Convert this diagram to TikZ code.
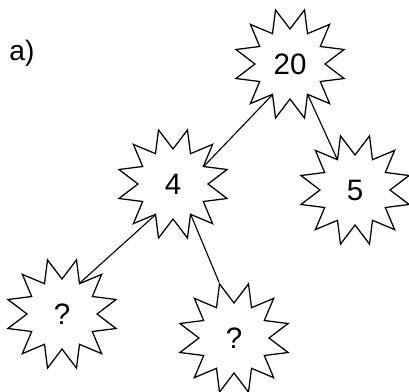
\documentclass[tikz,border=0pt]{standalone}
\usepackage{fontspec}
\setmainfont{Liberation Sans}
\usetikzlibrary{shapes.geometric}

\begin{document}
\begin{tikzpicture}[
        burst/.style={star, star points=12, star point ratio=1.6,
            shape border rotate=15, minimum size=2.8cm, inner sep=0pt,
            draw, line width=0.9pt, font=\fontsize{21}{25}\selectfont}
    ]
    \useasboundingbox (0, 0) rectangle (10.225, 9.775);

    \node (lbl) at (0.55, 8.45) {\fontsize{20}{24}\selectfont a)};

    \node[burst] (n20) at (7.25, 8.175) {20};
    \node[burst] (n4) at (4.325, 5.175) {4};
    \node[burst] (n5) at (8.875, 5.025) {5};
    \node[burst] (qa) at (1.55, 1.925) {?};
    \node[burst] (qb) at (5.85, 1.325) {?};

    % lines meet the stars at their notches
    \draw[line width=0.8pt] (n20.240) -- (n4.30);
    \draw[line width=0.8pt] (n20.300) -- (n5.120);
    \draw[line width=0.8pt] (n4.240) -- (qa.60);
    \draw[line width=0.8pt] (n4.300) -- (qb.105);
\end{tikzpicture}
\end{document}
